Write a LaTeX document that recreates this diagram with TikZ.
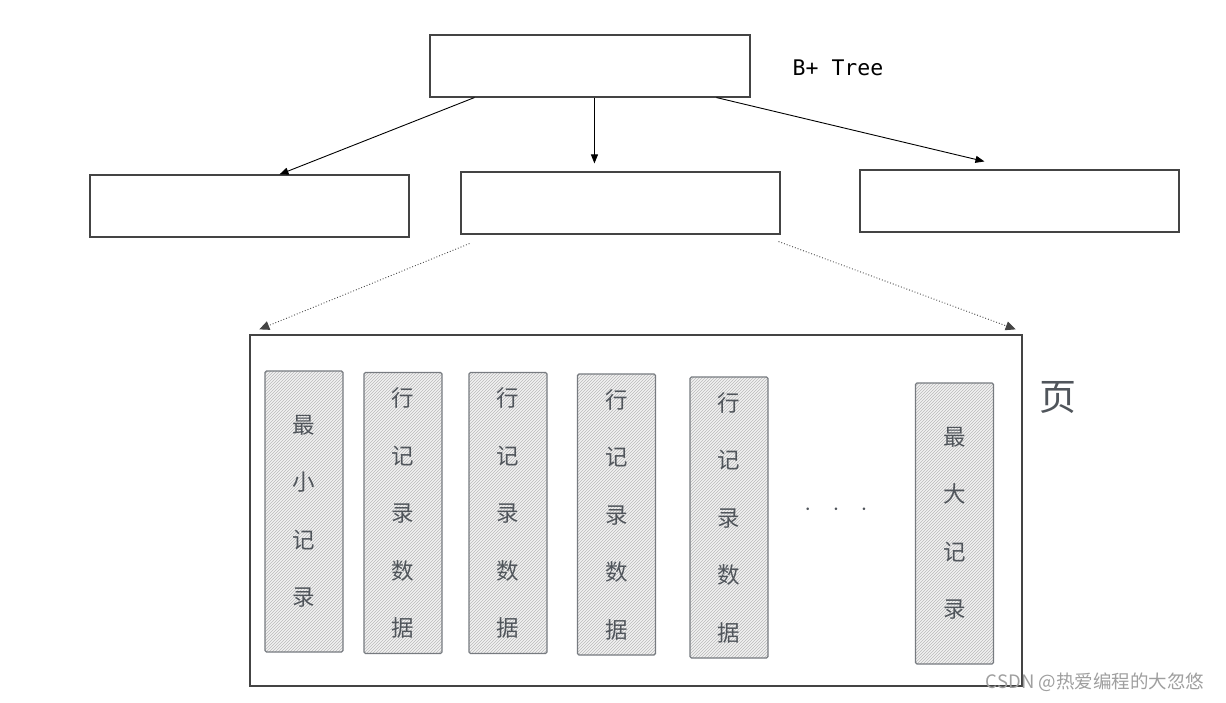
\documentclass[tikz,border=0pt]{standalone}
\usepackage{fontspec}
\newfontfamily\cjk{Noto Sans CJK SC}
\setmonofont{DejaVu Sans Mono}
\usetikzlibrary{arrows.meta,patterns,calc}
\definecolor{edge}{HTML}{444444}
\definecolor{rec}{HTML}{777B80}
\definecolor{txt}{HTML}{50555B}
\tikzset{
  treebox/.style={draw=edge,line width=1.1pt,minimum width=319pt,minimum height=62pt,inner sep=0pt},
  recbox/.style={draw=rec,line width=1.1pt,rounded corners=1.5pt,minimum width=78pt,minimum height=281pt,inner sep=0pt,
    preaction={fill=gray!10},pattern={north east lines},pattern color=gray!55,
    font=\cjk\fontsize{22.5}{57.5}\selectfont,text=txt,align=center},
  treearrow/.style={-{Triangle[length=9pt,width=7pt]},line width=0.9pt,black},
  dotarrow/.style={-{Triangle[length=10pt,width=9pt]},dotted,line width=0.9pt,edge}
}
\begin{document}
\begin{tikzpicture}[x=1pt,y=-1pt]
\useasboundingbox (0,0) rectangle (1226,702);
\node[treebox,minimum width=320pt] (root) at (590,66) {};
\node[treebox] (left) at (249.5,206) {};
\node[treebox] (mid) at (620.5,203) {};
\node[treebox] (right) at (1019.5,201) {};
\node[font=\ttfamily\fontsize{21.5}{24}\selectfont] (bt) at (838,68) {B+ Tree};
\draw[treearrow] ($(root.south west)+(45,0)$) -- ($(left.north west)+(190,0)$);
\draw[treearrow] ($(root.south west)+(165,0)$) -- ($(mid.north west)+(134,-8)$);
\draw[treearrow] ($(root.south west)+(287,0)$) -- ($(right.north west)+(125,-8)$);
\node[draw=edge,line width=1.3pt,minimum width=772pt,minimum height=351pt,inner sep=0pt] (page) at (636,510.5) {};
\draw[dotarrow] ($(mid.south west)+(9,9)$) -- ($(page.north west)+(10,-5)$);
\draw[dotarrow] ($(mid.south east)+(-2,7)$) -- ($(page.north east)+(-7,-5)$);
\node[font=\cjk\fontsize{37}{42}\selectfont,text=txt] (ye) at (1058,398) {页};
\node[recbox] (r1) at (304,511.5) {最\\小\\记\\录};
\node[recbox] (r2) at (403,513) {行\\记\\录\\数\\据};
\node[recbox] (r3) at (508,513) {行\\记\\录\\数\\据};
\node[recbox] (r4) at (616.5,514.5) {行\\记\\录\\数\\据};
\node[recbox] (r5) at (729,517.5) {行\\记\\录\\数\\据};
\node[recbox] (r6) at (954.5,523.5) {最\\大\\记\\录};
\node[font=\fontsize{26}{28}\selectfont,text=txt] (dots) at (836,510) {$\cdot\ \ \cdot\ \ \cdot$};
\node[font=\cjk\fontsize{18.5}{20}\selectfont,text=gray!75] (wm) at (1095,682) {CSDN @热爱编程的大忽悠};
\end{tikzpicture}
\end{document}
